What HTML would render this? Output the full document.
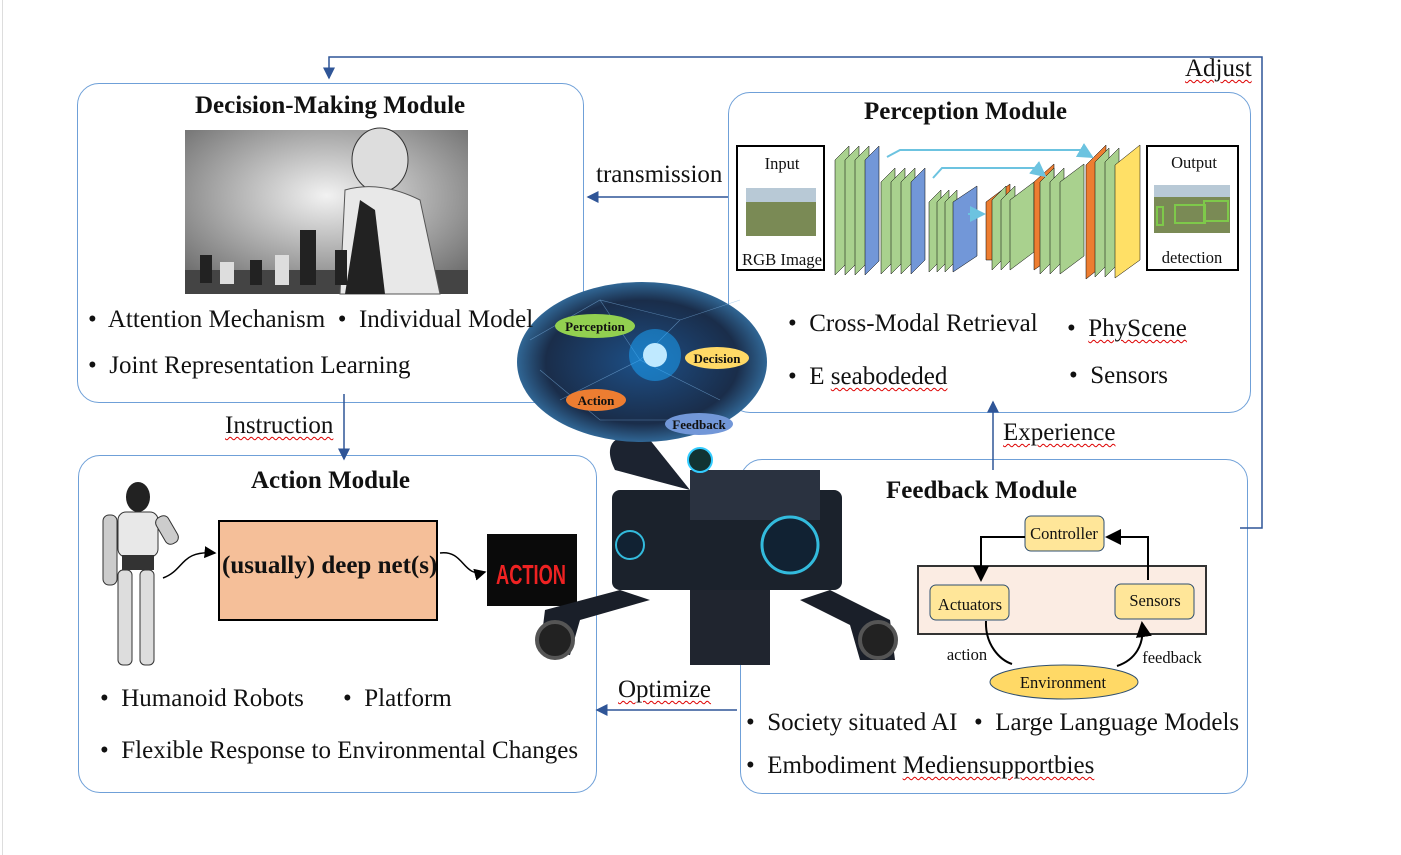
<!DOCTYPE html>
<html><head><meta charset="utf-8"><style>
body{margin:0;width:1401px;height:855px;background:#fff;position:relative;overflow:hidden;font-family:"Liberation Serif",serif;color:#111}
.a{position:absolute}
.box{position:absolute;border:1px solid #6fa0d8;border-radius:22px;background:#fff}
.t{position:absolute;font-weight:bold;font-size:25px;white-space:nowrap}
.b{position:absolute;font-size:25px;white-space:nowrap}
.u{text-decoration:underline wavy #d00;text-decoration-thickness:1px;text-underline-offset:3px}
</style></head><body>
<div class="a" style="left:2px;top:0;width:1px;height:855px;background:#ddd"></div>

<div class="box" style="left:77px;top:83px;width:505px;height:318px"></div>
<div class="box" style="left:728px;top:92px;width:521px;height:319px"></div>
<div class="box" style="left:78px;top:455px;width:517px;height:336px"></div>
<div class="box" style="left:740px;top:459px;width:506px;height:333px"></div>

<svg class="a" style="left:0;top:0" width="1401" height="855">
<defs><marker id="m" markerWidth="8" markerHeight="8" refX="7" refY="4" orient="auto"><path d="M0,0 L8,4 L0,8 z" fill="#2f5597"/></marker>
<marker id="k" markerWidth="8" markerHeight="8" refX="7" refY="4" orient="auto"><path d="M0,0 L8,4 L0,8 z" fill="#000"/></marker>
<marker id="c" markerWidth="8" markerHeight="8" refX="7" refY="4" orient="auto"><path d="M0,0 L8,4 L0,8 z" fill="#6cc3e0"/></marker></defs>
<g stroke="#2f5597" stroke-width="1.5" fill="none">
<path d="M1240,528 H1262 V57 H329 V78" marker-end="url(#m)"/>
<path d="M728,197 H588" marker-end="url(#m)"/>
<path d="M344,394 V459" marker-end="url(#m)"/>
<path d="M993,470 V402" marker-end="url(#m)"/>
<path d="M737,710 H597" marker-end="url(#m)"/>
</g>
<defs><radialGradient id="g1" cx="0.5" cy="0.4" r="0.7"><stop offset="0" stop-color="#f2f2f2"/><stop offset="1" stop-color="#6a6a6a"/></radialGradient>
<radialGradient id="br" cx="0.5" cy="0.5" r="0.55"><stop offset="0" stop-color="#1d4f86"/><stop offset="0.7" stop-color="#1a2d4a"/><stop offset="1" stop-color="#3a7fb5"/></radialGradient></defs>
<rect x="185" y="130" width="283" height="164" fill="url(#g1)"/>
<rect x="185" y="270" width="283" height="24" fill="#444"/>
<ellipse cx="380" cy="160" rx="28" ry="32" fill="#ddd" stroke="#333"/>
<path d="M345,190 Q380,180 420,200 L440,294 H340 Z" fill="#e8e8e8" stroke="#555"/>
<path d="M360,200 L345,294 H385 L375,210Z" fill="#222"/>
<g fill="#222"><rect x="200" y="255" width="12" height="28"/><rect x="250" y="260" width="12" height="25"/><rect x="300" y="230" width="16" height="55"/><rect x="335" y="250" width="12" height="35"/><rect x="355" y="245" width="10" height="40"/></g>
<g fill="#ddd"><rect x="220" y="262" width="14" height="22"/><rect x="275" y="255" width="14" height="30"/></g>
<rect x="737" y="146" width="87" height="124" fill="#fff" stroke="#000" stroke-width="2"/>
<rect x="746" y="188" width="70" height="48" fill="#7a8a55"/><rect x="746" y="188" width="70" height="14" fill="#b8c9d6"/>
<rect x="1147" y="146" width="91" height="124" fill="#fff" stroke="#000" stroke-width="2"/>
<rect x="1154" y="185" width="76" height="48" fill="#7a8a55"/><rect x="1154" y="185" width="76" height="12" fill="#b8c9d6"/>
<g fill="none" stroke="#7ec94a" stroke-width="2"><rect x="1175" y="205" width="30" height="18"/><rect x="1204" y="201" width="24" height="20"/><rect x="1157" y="207" width="6" height="18"/></g>
<g stroke="#000" stroke-width="0.5">
<g fill="#a9d18e"><path d="M835,160 l14,-14 v115 l-14,14z"/><path d="M845,160 l14,-14 v115 l-14,14z"/><path d="M855,160 l14,-14 v115 l-14,14z"/></g>
<path d="M865,160 l14,-14 v115 l-14,14z" fill="#7297d8"/>
<g fill="#a9d18e"><path d="M881,182 l14,-14 v92 l-14,14z"/><path d="M891,182 l14,-14 v92 l-14,14z"/><path d="M901,182 l14,-14 v92 l-14,14z"/></g>
<path d="M911,182 l14,-14 v92 l-14,14z" fill="#7297d8"/>
<g fill="#a9d18e"><path d="M929,202 l12,-12 v70 l-12,12z"/><path d="M937,202 l12,-12 v70 l-12,12z"/><path d="M945,202 l12,-12 v70 l-12,12z"/></g>
<path d="M953,202 l24,-16 v70 l-24,16z" fill="#7297d8"/>
<path d="M986,202 l24,-18 v76 l-10,0 l-14,0z" fill="#ed7d31"/>
<g fill="#a9d18e"><path d="M992,200 l14,-14 v70 l-14,14z"/><path d="M1001,200 l14,-14 v70 l-14,14z"/><path d="M1010,200 l24,-18 v70 l-24,18z"/></g>
<path d="M1034,182 l20,-18 v92 l-20,14z" fill="#ed7d31"/>
<g fill="#a9d18e"><path d="M1040,182 l14,-14 v92 l-14,14z"/><path d="M1050,182 l14,-14 v92 l-14,14z"/><path d="M1060,182 l24,-18 v92 l-24,18z"/></g>
<path d="M1086,165 l20,-20 v118 l-20,16z" fill="#ed7d31"/>
<g fill="#a9d18e"><path d="M1095,162 l14,-14 v115 l-14,14z"/><path d="M1105,162 l14,-14 v115 l-14,14z"/></g>
<path d="M1115,165 l25,-20 v115 l-25,18z" fill="#ffe066"/>
</g>
<g stroke="#6cc3e0" stroke-width="2" fill="none">
<path d="M887,157 L900,150 H1080 L1092,157" marker-end="url(#c)"/>
<path d="M933,178 L942,168 H1035 L1045,176" marker-end="url(#c)"/>
<path d="M968,214 H984" marker-end="url(#c)"/>
</g>
<rect x="219" y="521" width="218" height="99" fill="#f5bf99" stroke="#000" stroke-width="2"/>
<rect x="487" y="534" width="90" height="72" fill="#0a0a0a"/>
<text x="531" y="584" fill="#e22" font-family="Liberation Sans" font-weight="bold" font-size="28" text-anchor="middle" textLength="70" lengthAdjust="spacingAndGlyphs">ACTION</text>
<g stroke="#000" stroke-width="1.5" fill="none">
<path d="M163,578 C185,570 180,550 215,553" marker-end="url(#k)"/>
<path d="M440,553 C465,550 462,578 485,572" marker-end="url(#k)"/>
</g>
<ellipse cx="138" cy="497" rx="12" ry="15" fill="#222"/>
<rect x="118" y="512" width="40" height="45" rx="8" fill="#e8e8e8" stroke="#333"/>
<rect x="103" y="515" width="14" height="70" rx="6" fill="#ccc" stroke="#333"/>
<rect x="160" y="515" width="14" height="30" rx="6" fill="#ccc" stroke="#333" transform="rotate(-30 167 530)"/>
<rect x="122" y="555" width="32" height="15" fill="#333"/>
<rect x="118" y="570" width="14" height="95" rx="5" fill="#ddd" stroke="#333"/>
<rect x="140" y="570" width="14" height="95" rx="5" fill="#ddd" stroke="#333"/>
<path d="M615,470 C600,440 620,430 650,440 L690,490 Z" fill="#1c2330"/>
<rect x="612" y="490" width="230" height="100" rx="8" fill="#1b222c"/>
<rect x="690" y="470" width="130" height="50" fill="#2a3240"/>
<circle cx="790" cy="545" r="28" fill="#123" stroke="#3bd" stroke-width="3"/>
<circle cx="630" cy="545" r="14" fill="#123" stroke="#3bd" stroke-width="2"/>
<circle cx="700" cy="460" r="12" fill="#133" stroke="#3cf" stroke-width="2"/>
<path d="M620,590 L545,610 L540,650 L570,655 L580,620 L650,600Z" fill="#1a1f29"/>
<path d="M830,590 L890,620 L895,660 L860,660 L850,625 L800,600Z" fill="#1a1f29"/>
<rect x="690" y="590" width="80" height="75" fill="#20252f"/>
<circle cx="555" cy="640" r="18" fill="#222" stroke="#555" stroke-width="4"/>
<circle cx="878" cy="640" r="18" fill="#222" stroke="#555" stroke-width="4"/>
<ellipse cx="642" cy="362" rx="125" ry="80" fill="url(#br)"/>
<g stroke="#7fb6e6" stroke-width="0.6" opacity="0.6" fill="none">
<path d="M530,340 L600,300 L680,320 L740,300 M560,400 L640,360 L720,400 M600,300 L640,360 L680,320 M540,370 L600,420 L700,420"/>
</g>
<circle cx="655" cy="355" r="26" fill="#1aa7ff" opacity="0.5"/>
<circle cx="655" cy="355" r="12" fill="#bfe9ff"/>
<g font-family="Liberation Serif" font-weight="bold" font-size="13" text-anchor="middle" fill="#111">
<ellipse cx="595" cy="326" rx="40" ry="12" fill="#92d050"/><text x="595" y="331">Perception</text>
<ellipse cx="717" cy="358" rx="32" ry="11" fill="#ffd966"/><text x="717" y="363">Decision</text>
<ellipse cx="596" cy="400" rx="30" ry="11" fill="#ed7d31"/><text x="596" y="405">Action</text>
<ellipse cx="699" cy="424" rx="34" ry="11" fill="#7297d8"/><text x="699" y="429">Feedback</text>
</g>
<rect x="918" y="566" width="288" height="68" fill="#fbece3" stroke="#333" stroke-width="2"/>
<rect x="1025" y="516" width="79" height="35" rx="6" fill="#ffe699" stroke="#2f4f6f"/>
<rect x="930" y="585" width="79" height="35" rx="6" fill="#ffe699" stroke="#2f4f6f"/>
<rect x="1115" y="584" width="79" height="35" rx="6" fill="#ffe699" stroke="#2f4f6f"/>
<ellipse cx="1064" cy="682" rx="74" ry="17" fill="#ffd966" stroke="#2f4f6f"/>
<g stroke="#000" stroke-width="2" fill="none">
<path d="M1025,537 H981 V580" marker-end="url(#k)"/>
<path d="M1148,580 V537 H1107" marker-end="url(#k)"/>
<path d="M986,621 C985,645 1000,660 1012,664"/>
<path d="M1117,666 C1135,660 1145,645 1142,623" marker-end="url(#k)"/>
</g>
<g font-family="Liberation Serif" font-size="16.5" text-anchor="middle" fill="#111">
<text x="1064" y="539">Controller</text><text x="970" y="610">Actuators</text><text x="1155" y="606">Sensors</text>
<text x="1063" y="688">Environment</text><text x="967" y="660">action</text><text x="1172" y="663">feedback</text>
<text x="782" y="169">Input</text><text x="782" y="265" textLength="80" lengthAdjust="spacingAndGlyphs">RGB Image</text><text x="1194" y="168">Output</text><text x="1192" y="263">detection</text>
</g>
</svg>

<div class="t" style="left:195px;top:92px">Decision-Making Module</div>
<div class="t" style="left:864px;top:98px">Perception Module</div>
<div class="t" style="left:251px;top:467px">Action Module</div>
<div class="t" style="left:886px;top:477px">Feedback Module</div>
<div class="t" style="left:222px;top:552px">(usually) deep net(s)</div>

<div class="b" style="left:596px;top:161px">transmission</div>
<div class="b" style="left:225px;top:412px"><span class="u">Instruction</span></div>
<div class="b" style="left:1003px;top:419px"><span class="u">Experience</span></div>
<div class="b" style="left:618px;top:676px"><span class="u">Optimize</span></div>
<div class="b" style="left:1185px;top:55px"><span class="u">Adjust</span></div>

<div class="b" style="left:88px;top:306px">•&nbsp; Attention Mechanism&nbsp; •&nbsp; Individual Model</div>
<div class="b" style="left:88px;top:352px">•&nbsp; Joint Representation Learning</div>
<div class="b" style="left:788px;top:310px">•&nbsp; Cross-Modal Retrieval</div>
<div class="b" style="left:1067px;top:315px">•&nbsp; <span class="u">PhyScene</span></div>
<div class="b" style="left:788px;top:363px">•&nbsp; E <span class="u">seabodeded</span></div>
<div class="b" style="left:1069px;top:362px">•&nbsp; Sensors</div>
<div class="b" style="left:100px;top:685px">•&nbsp; Humanoid Robots</div>
<div class="b" style="left:343px;top:685px">•&nbsp; Platform</div>
<div class="b" style="left:100px;top:737px">•&nbsp; Flexible Response to Environmental Changes</div>
<div class="b" style="left:746px;top:709px">•&nbsp; Society situated AI</div>
<div class="b" style="left:974px;top:709px">•&nbsp; Large Language Models</div>
<div class="b" style="left:746px;top:752px">•&nbsp; Embodiment <span class="u">Mediensupportbies</span></div>
</body></html>
